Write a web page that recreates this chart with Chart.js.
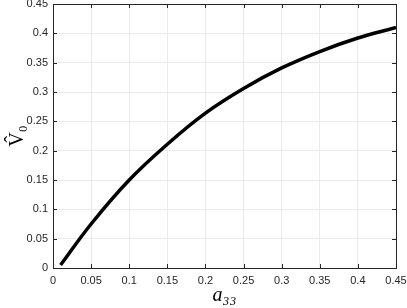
<!DOCTYPE html>
<html>
<head>
<meta charset="utf-8">
<script src="https://cdn.jsdelivr.net/npm/chart.js@4"></script>
<style>
  html, body { margin: 0; padding: 0; background: #fff; }
  #wrap { width: 407px; height: 308px; }
</style>
</head>
<body>
<div id="wrap"><canvas id="curveChart" width="407" height="308"></canvas></div>
<script>
// values
const a33 = [0.01, 0.05, 0.1, 0.15, 0.2, 0.25, 0.3, 0.35, 0.4, 0.45];
const v0 = [0.005, 0.075, 0.15, 0.211, 0.264, 0.306, 0.341, 0.369, 0.392, 0.41];
const tickValues = [0, 0.05, 0.1, 0.15, 0.2, 0.25, 0.3, 0.35, 0.4, 0.45];

const axisColor = '#262626';

// matlab style box with inward ticks on all four sides
const boxTicks = {
    id: 'boxTicks',
    afterDatasetsDraw(chart) {
        const { ctx, chartArea: a, scales } = chart;
        const len = 4;
        ctx.save();
        ctx.strokeStyle = axisColor;
        ctx.lineWidth = 1;
        ctx.beginPath();
        tickValues.forEach(v => {
            const px = Math.round(scales.x.getPixelForValue(v)) + 0.5;
            ctx.moveTo(px, a.bottom); ctx.lineTo(px, a.bottom - len);
            ctx.moveTo(px, a.top); ctx.lineTo(px, a.top + len);
            const py = Math.round(scales.y.getPixelForValue(v)) + 0.5;
            ctx.moveTo(a.left, py); ctx.lineTo(a.left + len, py);
            ctx.moveTo(a.right, py); ctx.lineTo(a.right - len, py);
        });
        ctx.stroke();
        ctx.strokeRect(Math.round(a.left) + 0.5, Math.round(a.top) + 0.5,
            Math.round(a.right - a.left), Math.round(a.bottom - a.top));
        ctx.restore();
    }
};

const fmt = v => String(+(+v).toFixed(2));

new Chart(document.getElementById('curveChart').getContext('2d'), {
    type: 'line',
    data: {
        datasets: [{
            data: a33.map((x, i) => ({ x: x, y: v0[i] })),
            borderColor: '#000',
            borderWidth: 3.5,
            pointRadius: 0,
            tension: 0.4,
            fill: false
        }]
    },
    options: {
        responsive: false,
        animation: false,
        layout: { padding: { top: 4, right: 11, left: 0, bottom: 0 } },
        plugins: {
            legend: { display: false },
            tooltip: { enabled: false }
        },
        scales: {
            x: {
                type: 'linear',
                min: 0,
                max: 0.45,
                afterBuildTicks: s => { s.ticks = tickValues.map(v => ({ value: v })); },
                afterFit: s => { s.height = 40; s.paddingLeft = 0; s.paddingRight = 0; },
                border: { display: false },
                grid: { color: '#ebebeb', drawTicks: false },
                ticks: {
                    color: axisColor,
                    padding: 6,
                    maxRotation: 0,
                    font: { family: 'Liberation Sans, Arial, sans-serif', size: 11 },
                    callback: fmt
                },
                title: {
                    display: true,
                    text: 'a₃₃',
                    color: '#000',
                    padding: { top: 1, bottom: 0 },
                    font: { family: 'Liberation Serif, DejaVu Serif, serif', size: 20, style: 'italic' }
                }
            },
            y: {
                min: 0,
                max: 0.45,
                afterBuildTicks: s => { s.ticks = tickValues.map(v => ({ value: v })); },
                afterFit: s => { s.width = 53; s.paddingTop = 0; s.paddingBottom = 0; },
                border: { display: false },
                grid: { color: '#ebebeb', drawTicks: false },
                ticks: {
                    color: axisColor,
                    padding: 5,
                    font: { family: 'Liberation Sans, Arial, sans-serif', size: 11 },
                    callback: fmt
                },
                title: {
                    display: true,
                    text: 'V̂₀',
                    color: '#000',
                    padding: { top: 6, bottom: 0 },
                    font: { family: 'Liberation Serif, DejaVu Serif, serif', size: 20 }
                }
            }
        }
    },
    plugins: [boxTicks]
});
</script>
</body>
</html>
